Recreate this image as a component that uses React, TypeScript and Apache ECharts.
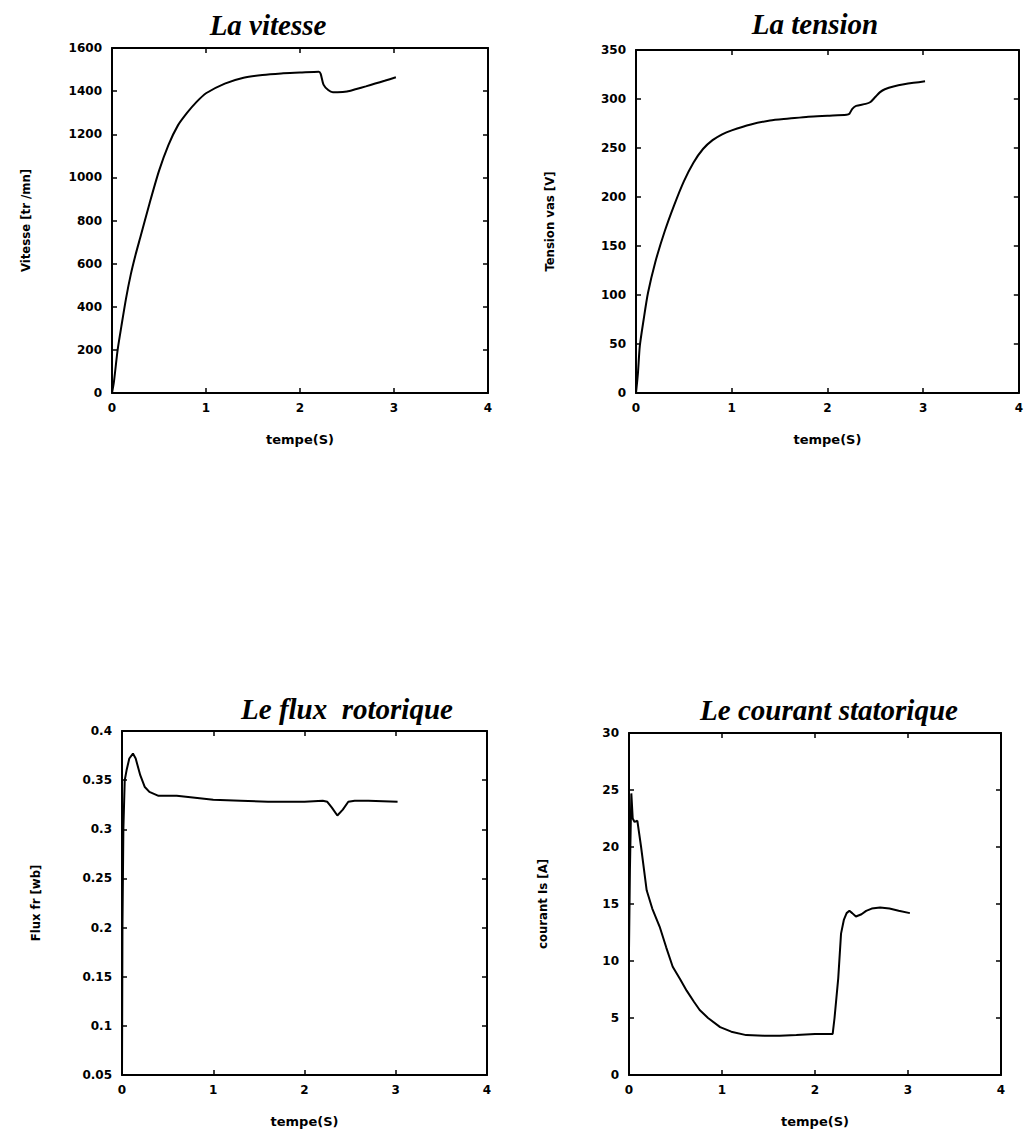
import React, { useEffect, useRef } from "react";
import * as echarts from "echarts";

// ---- Data ----
const xTicks = [0, 1, 2, 3, 4];

const vitesseT = [0, 0.02, 0.06, 0.1, 0.15, 0.2, 0.25, 0.3, 0.4, 0.5, 0.6, 0.7, 0.8, 0.9, 1.0, 1.2, 1.4, 1.6, 1.8, 2.0, 2.2, 2.22, 2.25, 2.3, 2.35, 2.4, 2.5, 2.6, 2.7, 2.8, 2.9, 3.02];
const vitesseV = [0, 50, 200, 310, 440, 550, 640, 720, 880, 1030, 1150, 1240, 1300, 1350, 1390, 1435, 1462, 1475, 1482, 1486, 1490, 1480, 1430, 1405, 1395, 1395, 1398, 1410, 1422, 1435, 1448, 1464];

const tensionT = [0, 0.02, 0.04, 0.08, 0.125, 0.2, 0.3, 0.4, 0.5, 0.6, 0.7, 0.8, 0.9, 1.0, 1.2, 1.4, 1.6, 1.8, 2.0, 2.2, 2.23, 2.26, 2.3, 2.4, 2.45, 2.5, 2.55, 2.6, 2.7, 2.8, 2.9, 3.02];
const tensionV = [0, 20, 48, 75, 102, 133, 165, 192, 216, 235, 249, 258, 264, 268, 274, 278, 280, 282, 283, 284, 285, 290, 293, 295, 297, 302, 307, 310, 313, 315, 316.5, 318];

const fluxT = [0, 0.005, 0.015, 0.03, 0.05, 0.08, 0.12, 0.15, 0.2, 0.25, 0.3, 0.4, 0.6, 0.8, 1.0, 1.3, 1.6, 2.0, 2.2, 2.25, 2.3, 2.36, 2.42, 2.48, 2.55, 2.7, 3.02];
const fluxV = [0.05, 0.2, 0.3, 0.35, 0.36, 0.372, 0.377, 0.372, 0.355, 0.343, 0.338, 0.334, 0.334, 0.332, 0.33, 0.329, 0.328, 0.328, 0.329, 0.328, 0.322, 0.314, 0.32, 0.328, 0.329, 0.329, 0.328];

const courantT = [0, 0.01, 0.025, 0.04, 0.06, 0.09, 0.13, 0.19, 0.25, 0.33, 0.4, 0.47, 0.55, 0.62, 0.7, 0.76, 0.85, 0.98, 1.1, 1.26, 1.45, 1.62, 1.8, 2.0, 2.19, 2.21, 2.25, 2.28, 2.31, 2.34, 2.37, 2.4, 2.44, 2.5, 2.55, 2.61, 2.7, 2.8, 2.9, 3.02];
const courantV = [11, 18, 24.7, 22.5, 22.2, 22.3, 20, 16.2, 14.6, 13, 11.2, 9.5, 8.4, 7.4, 6.4, 5.7, 5, 4.2, 3.8, 3.5, 3.45, 3.45, 3.5, 3.6, 3.6, 5, 8.5, 12.4, 13.6, 14.2, 14.4, 14.2, 13.9, 14.1, 14.4, 14.6, 14.7, 14.6, 14.4, 14.2];

const titles = ["La vitesse", "La tension", "Le flux  rotorique", "Le courant statorique"];
const yNames = ["Vitesse [tr /mn]", "Tension vas [V]", "Flux fr [wb]", "courant Is [A]"];
const xName = "tempe(S)";

const yRanges = [
  { min: 0, max: 1600, interval: 200 },
  { min: 0, max: 350, interval: 50 },
  { min: 0.05, max: 0.4, interval: 0.05 },
  { min: 0, max: 30, interval: 5 },
];

const seriesT = [vitesseT, tensionT, fluxT, courantT];
const seriesV = [vitesseV, tensionV, fluxV, courantV];
const smoothness = [0.25, 0.25, 0, 0];

// ---- Layout ----
const grids = [
  { left: 112, top: 48, width: 376, height: 345 },
  { left: 636, top: 50, width: 383, height: 343 },
  { left: 122, top: 731, width: 365, height: 344 },
  { left: 629, top: 733, width: 372, height: 342 },
];
const titlePos = [
  [268, 25],
  [815, 24],
  [347, 709],
  [829, 710],
];

const tickFont = {
  color: "#000",
  fontFamily: "DejaVu Sans",
  fontWeight: "bold" as const,
  fontSize: 12,
};

const fmt = (v: number) => String(Number(v.toFixed(4)));

export default function App() {
  const ref = useRef<HTMLDivElement>(null);
  useEffect(() => {
    if (!ref.current) return;
    const chart = echarts.init(ref.current, null, { renderer: "svg" });
    const xAxis: any[] = [];
    const yAxis: any[] = [];
    const series: any[] = [];
    const lineStyle = { color: "#000", width: 2 };
    const axisLine = { show: true, onZero: false, lineStyle };
    const axisTick = { show: true, inside: true, length: 5, lineStyle: { color: "#000", width: 1.5 } };
    grids.forEach((g, i) => {
      const common = { type: "value", min: xTicks[0], max: xTicks[xTicks.length - 1], interval: 1, gridIndex: i };
      xAxis.push({
        ...common,
        position: "bottom",
        axisLine,
        axisTick,
        axisLabel: { ...tickFont, margin: 9, formatter: fmt },
        splitLine: { show: false },
        name: xName,
        nameLocation: "middle",
        nameGap: 40,
        nameTextStyle: { ...tickFont, fontSize: 13 },
      });
      xAxis.push({
        ...common,
        position: "top",
        axisLine,
        axisTick,
        axisLabel: { show: false },
        splitLine: { show: false },
      });
      const yr = yRanges[i];
      yAxis.push({
        type: "value",
        gridIndex: i,
        min: yr.min,
        max: yr.max,
        interval: yr.interval,
        position: "left",
        axisLine,
        axisTick,
        axisLabel: { ...tickFont, margin: 10, formatter: fmt },
        splitLine: { show: false },
        name: yNames[i],
        nameLocation: "middle",
        nameGap: 80,
        nameTextStyle: {
          color: "#000",
          fontFamily: "Liberation Sans Narrow, DejaVu Sans Condensed, sans-serif",
          fontWeight: "bold",
          fontSize: 13,
        },
      });
      yAxis.push({
        type: "value",
        gridIndex: i,
        min: yr.min,
        max: yr.max,
        interval: yr.interval,
        position: "right",
        axisLine,
        axisTick,
        axisLabel: { show: false },
        splitLine: { show: false },
      });
      series.push({
        type: "line",
        xAxisIndex: i * 2,
        yAxisIndex: i * 2,
        data: seriesT[i].map((t, k) => [t, seriesV[i][k]]),
        showSymbol: false,
        symbol: "none",
        smooth: smoothness[i] || false,
        lineStyle: { color: "#000", width: 2 },
        silent: true,
      });
    });

    chart.setOption({
      animation: false,
      backgroundColor: "#fff",
      grid: grids.map((g) => ({ ...g, containLabel: false })),
      xAxis,
      yAxis,
      series,
      graphic: titles.map((t, i) => ({
        type: "text",
        x: titlePos[i][0],
        y: titlePos[i][1],
        style: {
          text: t,
          fill: "#000",
          font: "italic bold 29px 'Liberation Serif', 'DejaVu Serif', serif",
          textAlign: "center",
          textVerticalAlign: "middle",
        },
      })),
    });
    return () => chart.dispose();
  }, []);
  return (
    <div
      ref={ref}
      style={{ position: "absolute", left: 0, top: 0, width: 1026, height: 1135, background: "#fff" }}
    />
  );
}
